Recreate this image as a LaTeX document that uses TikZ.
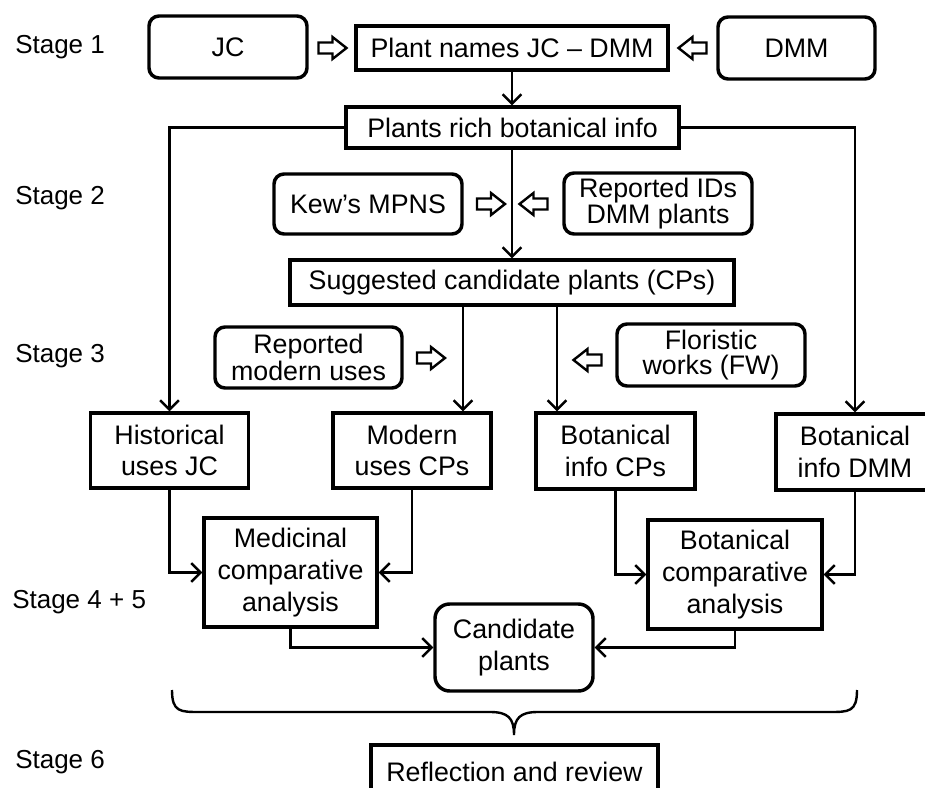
\documentclass[tikz,border=0pt]{standalone}
\usepackage{fontspec}
\setmainfont{Liberation Sans}
\usetikzlibrary{arrows.meta}
\begin{document}
\begin{tikzpicture}[x=0.75pt,y=-0.75pt,
  font=\fontsize{20.1}{23.8}\selectfont,
  box/.style={draw, line width=2.6pt, inner sep=0pt, align=center},
  rbox/.style={box, rounded corners=7.5pt},
  tight/.style={font=\fontsize{20.1}{18.6}\selectfont},
  sz/.style 2 args={minimum width=#1*0.75pt, minimum height=#2*0.75pt},
  conn/.style={line width=1.8pt, -{Straight Barb[length=7pt,width=14pt]}},
  stagelbl/.style={anchor=west, inner sep=0pt, font=\fontsize{19.5}{23.8}\selectfont},
  warrow/.pic={\draw[line width=1.8pt, line join=miter, fill=white]
     (-14,-5.5) -- (0,-5.5) -- (0,-11) -- (14,0) -- (0,11) -- (0,5.5) -- (-14,5.5) -- cycle;}
]
\useasboundingbox (0,0) rectangle (925,788);
\clip (0,0) rectangle (925,788);

% stage labels
\node[stagelbl] (s1) at (15,47) {Stage 1};
\node[stagelbl] (s2) at (15,198) {Stage 2};
\node[stagelbl] (s3) at (15,356) {Stage 3};
\node[stagelbl] (s45) at (12,602) {Stage 4 + 5};
\node[stagelbl] (s6) at (15,762) {Stage 6};

% boxes
\node[rbox, sz={158}{62}] (jc) at (228,47) {JC};
\node[box, sz={312}{44}] (pn) at (512,48) {Plant names JC – DMM};
\node[rbox, sz={157}{62}] (dmm) at (796.5,48) {DMM};
\node[box, sz={333}{41}] (pr) at (512.5,127.5) {Plants rich botanical info};
\node[rbox, sz={188}{60}] (kew) at (368,204) {Kew’s MPNS};
\node[rbox, tight, sz={188}{61}] (rid) at (658,203.5) {Reported IDs\\DMM plants};
\node[box, sz={444}{45}] (sc) at (512,282.5) {Suggested candidate plants (CPs)};
\node[rbox, tight, sz={187}{61}] (rmu) at (308.5,357.5) {Reported\\modern uses};
\node[rbox, tight, sz={188}{62}] (fw) at (711,355) {Floristic\\works (FW)};
\node[box, sz={158}{75}] (hu) at (169.5,450.5) {Historical\\uses JC};
\node[box, sz={158}{75}] (mu) at (412,450.5) {Modern\\uses CPs};
\node[box, sz={159}{76}] (bcp) at (615.5,451) {Botanical\\info CPs};
\node[box, sz={158}{76}] (bdmm) at (855,452) {Botanical\\info DMM};
\node[box, sz={173}{109}] (mca) at (290.5,572.5) {Medicinal\\comparative\\analysis};
\node[box, sz={174}{109}] (bca) at (735,574.5) {Botanical\\comparative\\analysis};
\node[rbox, rounded corners=11pt, sz={158}{87}] (cand) at (514,647.5) {Candidate\\plants};
\node[box, sz={287}{54}] (rr) at (514.5,772) {Reflection and review};

% white block arrows
\pic at (332.5,48) {warrow};
\pic[rotate=180] at (692.5,48) {warrow};
\pic at (491,204) {warrow};
\pic[rotate=180] at (533.5,204) {warrow};
\pic at (431,358) {warrow};
\pic[rotate=180] at (587.5,360) {warrow};

% connectors
\coordinate (c1) at (463,0);
\coordinate (c2) at (557,0);
\draw[conn] (pn.south) -- (pn.south |- pr.north);
\draw[conn] (pr.west) -| (hu.north);
\draw[conn] (pr.east) -| (bdmm.north);
\draw[conn] (pr.south -| sc.north) -- (sc.north);
\draw[conn] (sc.south -| c1) -- (mu.north -| c1);
\draw[conn] (sc.south -| c2) -- (bcp.north -| c2);
\draw[conn] (hu.south) |- (mca.west);
\draw[conn] (mu.south) |- (mca.east);
\draw[conn] (bcp.south) |- (bca.west);
\draw[conn] (bdmm.south) |- (bca.east);
\draw[conn] (mca.south) |- (cand.west);
\draw[conn] (bca.south) |- (cand.east);

% brace
\draw[line width=1.8pt] (172,690) .. controls (172,712) and (180,712) .. (200,712)
  -- (490,712) .. controls (508,712) and (514,718) .. (514,735)
  .. controls (514,718) and (520,712) .. (538,712)
  -- (829,712) .. controls (849,712) and (857,712) .. (857,690);
\end{tikzpicture}
\end{document}
